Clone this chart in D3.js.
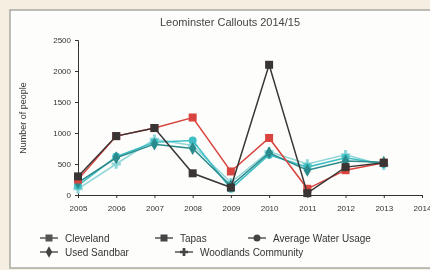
<!DOCTYPE html>
<html>
<head>
<meta charset="utf-8">
<script src="https://cdn.jsdelivr.net/npm/d3@7"></script>
<style>
  body { margin: 0; background: #f6f3ea; }
  #chart { filter: blur(0.6px); }
  text { font-family: "Liberation Sans", Arial, sans-serif; }
</style>
</head>
<body>
<div id="chart"></div>
<script>
// values
var categories = ["2005", "2006", "2007", "2008", "2009", "2010", "2011", "2012", "2013", "2014"];
var cleveland = [250, 950, 1080, 1250, 380, 920, 100, 400, 520];
var tapas = [300, 950, 1080, 350, 120, 2100, 30, 450, 520];
var waterUsage = [150, 620, 850, 880, 100, 650, 450, 600, 500];
var sandbar = [200, 600, 820, 750, 150, 680, 400, 550, 530];
var woodlands = [100, 500, 900, 800, 200, 700, 500, 650, 480];
var yTicks = [0, 500, 1000, 1500, 2000, 2500];

var series = [
  {name: "Cleveland", values: cleveland, color: "#d9443f", marker: "square"},
  {name: "Tapas", values: tapas, color: "#3a3535", marker: "square"},
  {name: "Average Water Usage", values: waterUsage, color: "#3fbfc4", marker: "circle"},
  {name: "Used Sandbar", values: sandbar, color: "#2a8a8c", marker: "diamond"},
  {name: "Woodlands Community", values: woodlands, color: "#8fd6d8", marker: "cross"}
];

var width = 430, height = 270;
var margin = {top: 40, right: 10, bottom: 75, left: 78};

var svg = d3.select("#chart")
  .append("svg")
  .attr("width", width)
  .attr("height", height);

// page background + panel
svg.append("rect").attr("width", width).attr("height", height).attr("fill", "#f4efe0");
svg.append("rect")
  .attr("x", 10).attr("y", 10)
  .attr("width", width - 9).attr("height", height - 12)
  .attr("fill", "#fdfdfb")
  .attr("stroke", "#a9a9a4")
  .attr("stroke-width", 1.5);

var x = d3.scalePoint()
  .domain(categories)
  .range([margin.left, 422]);

var y = d3.scaleLinear()
  .domain([0, 2500])
  .range([195, 40]);

svg.append("text")
  .attr("x", 230).attr("y", 26)
  .attr("text-anchor", "middle")
  .attr("font-size", 11)
  .attr("fill", "#444")
  .text("Leominster Callouts 2014/15");

svg.append("text")
  .attr("transform", "translate(26,118) rotate(-90)")
  .attr("text-anchor", "middle")
  .attr("font-size", 9)
  .attr("fill", "#333")
  .text("Number of people");

var yAxis = svg.append("g")
  .attr("transform", "translate(" + margin.left + ",0)")
  .call(d3.axisLeft(y).tickValues(yTicks).tickSize(3).tickPadding(4).tickFormat(d3.format("d")));
yAxis.selectAll("text").attr("font-size", 8).attr("fill", "#333");

var xAxis = svg.append("g")
  .attr("transform", "translate(0,195)")
  .call(d3.axisBottom(x).tickSize(3).tickPadding(7));
xAxis.selectAll("text").attr("font-size", 8).attr("fill", "#333");
svg.selectAll(".domain").attr("stroke", "#333");
svg.selectAll(".tick line").attr("stroke", "#333");

var line = d3.line()
  .x(function(d, i) { return x(categories[i]); })
  .y(function(d) { return y(d); });

function drawMarker(g, type, color, size) {
  if (type == "square") {
    g.append("rect").attr("x", -size).attr("y", -size)
      .attr("width", size * 2).attr("height", size * 2).attr("fill", color);
  } else if (type == "circle") {
    g.append("circle").attr("r", size).attr("fill", color);
  } else if (type == "diamond") {
    g.append("path").attr("d", d3.symbol(d3.symbolDiamond, size * size * 3)()).attr("fill", color);
  } else {
    g.append("path").attr("d", d3.symbol(d3.symbolCross, size * size * 3)()).attr("fill", color);
  }
}

// draw back to front so black and red sit on top
var order = [4, 2, 3, 0, 1];
order.forEach(function(k) {
  var s = series[k];
  svg.append("path")
    .datum(s.values)
    .attr("d", line)
    .attr("fill", "none")
    .attr("stroke", s.color)
    .attr("stroke-width", 1.5);
  s.values.forEach(function(v, i) {
    var g = svg.append("g").attr("transform", "translate(" + x(categories[i]) + "," + y(v) + ")");
    drawMarker(g, s.marker, s.color, 4);
  });
});

// legend
var legendPos = [[40, 238], [155, 238], [248, 238], [40, 252], [175, 252]];
series.forEach(function(s, k) {
  var g = svg.append("g").attr("transform", "translate(" + legendPos[k][0] + "," + legendPos[k][1] + ")");
  g.append("line").attr("x1", 0).attr("x2", 18).attr("stroke", "#555").attr("stroke-width", 1.5);
  var m = g.append("g").attr("transform", "translate(9,0)");
  drawMarker(m, s.marker, k == 0 ? "#555" : "#444", 3.5);
  g.append("text")
    .attr("x", 25).attr("y", 3.5)
    .attr("font-size", 10)
    .attr("fill", "#333")
    .text(s.name);
});
</script>
</body>
</html>
